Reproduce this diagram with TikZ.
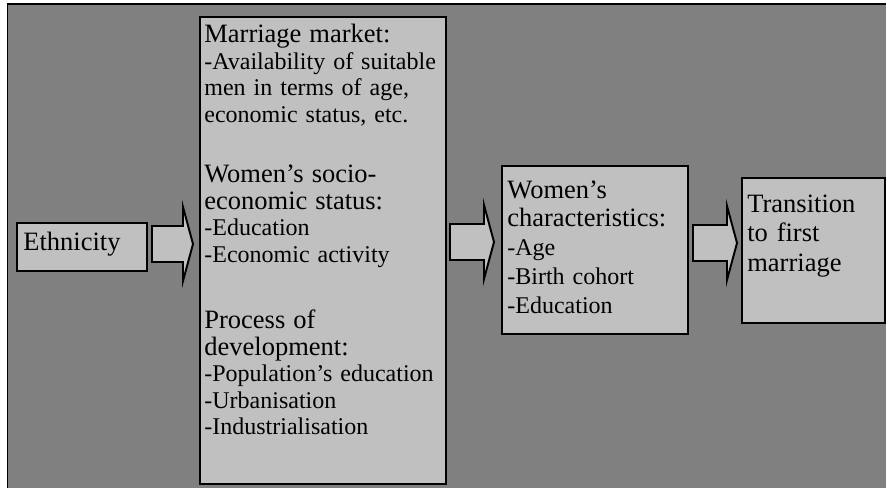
\documentclass[tikz,border=0pt]{standalone}
\usepackage{fontspec}
\setmainfont{Liberation Serif}

\definecolor{bggray}{RGB}{128,128,128}
\definecolor{boxgray}{RGB}{192,192,192}
\newcommand{\headsize}{\fontsize{15.08}{15.08}\selectfont}

\begin{document}
\begin{tikzpicture}[
    box/.style={draw, fill=boxgray, line width=1.1pt, anchor=north west, inner sep=0pt},
    txt/.style={anchor=base west, inner sep=0pt, align=left, font=\fontsize{13.66}{15.08}\selectfont},
    blockarrow/.style={draw, fill=boxgray, line width=1.1pt, line join=miter}
  ]
  \useasboundingbox (0,0) rectangle (17.72,-9.76);

  % Moldura
  \draw[fill=bggray, line width=1.1pt] (0.15,-0.08) rectangle (18.2,-10.2);

  % Caixas
  \node[box, minimum width=2.60cm, minimum height=0.96cm] (ethnicity) at (0.32,-4.44) {};
  \node[box, minimum width=4.92cm, minimum height=9.34cm] (market) at (3.98,-0.32) {};
  \node[box, minimum width=3.72cm, minimum height=3.36cm] (women) at (10.02,-3.30) {};
  \node[box, minimum width=2.86cm, minimum height=2.90cm] (transition) at (14.82,-3.54) {};

  % Setas largas
  \foreach \x/\y/\len [count=\i] in {3.04/-4.88/0.82, 9.00/-4.84/0.88, 13.86/-4.86/0.88} {
    \coordinate (tail\i) at (\x,\y);
    \draw[blockarrow] (tail\i) ++(0,0.36) -- ++({\len-0.2},0) -- ++(0,0.38)
      -- ++(0.2,-0.74) -- ++(-0.2,-0.74) -- ++(0,0.38) -- ++({0.2-\len},0) -- cycle;
  }

  % Textos
  \node[txt, text width=2.3cm] (ethnicitytxt) at (0.46,-5.00) {\headsize Ethnicity};
  \node[txt, text width=4.8cm] (markettxt) at (4.08,-0.86) {%
    {\headsize Marriage market:}\\
    -Availability of suitable\\
    men in terms of age,\\
    economic status, etc.\\[0.68cm]
    {\headsize Women’s socio-}\\
    {\headsize economic status:}\\
    -Education\\
    -Economic activity\\[0.80cm]
    {\headsize Process of}\\
    {\headsize development:}\\
    -Population’s education\\
    -Urbanisation\\
    -Industrialisation};
  \node[txt, text width=3.5cm, font=\fontsize{13.66}{16.5}\selectfont] (womentxt) at (10.14,-3.96) {%
    {\headsize Women’s}\\
    {\headsize characteristics:}\\
    -Age\\
    -Birth cohort\\
    -Education};
  \node[txt, text width=2.6cm, font=\fontsize{15.08}{17.07}\selectfont] (transitiontxt) at (14.94,-4.24) {%
    Transition\\
    to first\\
    marriage};
\end{tikzpicture}
\end{document}
